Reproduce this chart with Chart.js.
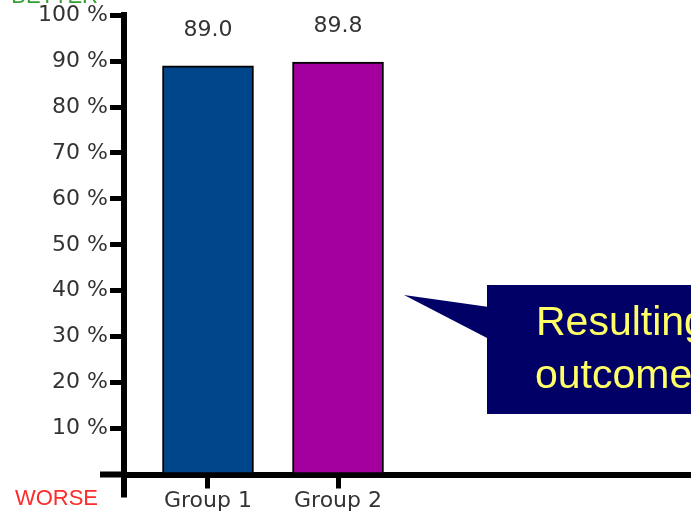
<!DOCTYPE html>
<html>
<head>
<meta charset="utf-8">
<script src="https://cdn.jsdelivr.net/npm/chart.js@4/dist/chart.umd.min.js"></script>
<style>
  html, body { margin: 0; padding: 0; background: #fff; overflow: hidden; }
  #wrap { position: relative; width: 691px; height: 540px; }
</style>
</head>
<body>
<div id="wrap"><canvas id="chart" width="691" height="540"></canvas></div>
<script>
// Datos del gráfico
const categories = ['Group 1', 'Group 2'];
const values = [89.0, 89.8];
const barColors = ['#00468b', '#a3009f'];
const yTicks = [0, 10, 20, 30, 40, 50, 60, 70, 80, 90, 100];

Chart.defaults.font.family = 'DejaVu Sans';

// Etiquetas de valor encima de las barras
const valueLabels = {
    id: 'valueLabels',
    afterDatasetsDraw(chart) {
        const ctx = chart.ctx;
        const meta = chart.getDatasetMeta(0);
        ctx.save();
        ctx.font = '22px "DejaVu Sans"';
        ctx.fillStyle = '#333';
        ctx.textAlign = 'center';
        ctx.textBaseline = 'alphabetic';
        meta.data.forEach((bar, i) => {
            ctx.fillText(values[i].toFixed(1), bar.x, bar.y - 30);
        });
        ctx.restore();
    }
};

// Prolongación de ejes, textos BETTER/WORSE y globo
const decorations = {
    id: 'decorations',
    afterDraw(chart) {
        const ctx = chart.ctx;
        const area = chart.chartArea;
        ctx.save();
        ctx.strokeStyle = '#000';
        ctx.lineWidth = 6;
        ctx.beginPath();
        ctx.moveTo(area.left, area.bottom);
        ctx.lineTo(area.left, area.bottom + 23);
        ctx.moveTo(area.left - 24, area.bottom);
        ctx.lineTo(area.left, area.bottom);
        ctx.stroke();

        ctx.font = '22px "Liberation Sans"';
        ctx.textAlign = 'right';
        ctx.fillStyle = '#33a033';
        ctx.fillText('BETTER', 98, 3);
        ctx.fillStyle = '#ff2a2a';
        ctx.fillText('WORSE', 98, 505);

        // globo
        ctx.fillStyle = '#000066';
        ctx.beginPath();
        ctx.moveTo(404, 295);
        ctx.lineTo(489, 307);
        ctx.lineTo(489, 339);
        ctx.closePath();
        ctx.fill();
        ctx.fillRect(487, 285, 210, 129);

        ctx.fillStyle = '#ffff66';
        ctx.textAlign = 'left';
        ctx.font = '41px "Liberation Sans"';
        ctx.fillText('Resulting', 536, 335);
        ctx.fillText('outcome', 535, 388);
        ctx.restore();
    }
};

const ctx = document.getElementById('chart').getContext('2d');
new Chart(ctx, {
    type: 'bar',
    data: {
        datasets: [{
            data: values.map((v, i) => ({ x: i + 1, y: v })),
            backgroundColor: barColors,
            borderColor: '#000',
            borderWidth: 2,
            borderSkipped: false,
            barThickness: 91
        }]
    },
    options: {
        responsive: false,
        devicePixelRatio: 1,
        animation: false,
        layout: { padding: { top: 14.5, right: 0, left: 0, bottom: 0 } },
        plugins: {
            legend: { display: false },
            tooltip: { enabled: false }
        },
        scales: {
            x: {
                type: 'linear',
                offset: false,
                min: 0.354,
                max: 4.715,
                afterBuildTicks(scale) {
                    scale.ticks = categories.map((c, i) => ({ value: i + 1 }));
                },
                afterFit(scale) { scale.height = 540 - 474.5; },
                ticks: {
                    callback: (v) => categories[Math.round(v) - 1] || '',
                    color: '#333',
                    font: { size: 22 },
                    padding: 0,
                    maxRotation: 0,
                    autoSkip: false
                },
                grid: {
                    drawOnChartArea: false,
                    drawTicks: true,
                    offset: false,
                    tickLength: 14,
                    tickWidth: 5,
                    tickColor: '#000'
                },
                border: { display: true, color: '#000', width: 6 }
            },
            y: {
                min: 0,
                max: 100,
                afterBuildTicks(scale) {
                    scale.ticks = yTicks.map(v => ({ value: v }));
                },
                afterFit(scale) { scale.width = 124; },
                ticks: {
                    callback: (v) => v === 0 ? '' : v + ' %',
                    color: '#333',
                    font: { size: 22 },
                    padding: 2
                },
                grid: {
                    drawOnChartArea: false,
                    drawTicks: true,
                    tickLength: 14,
                    tickWidth: 5,
                    tickColor: '#000'
                },
                border: { display: true, color: '#000', width: 6 }
            }
        }
    },
    plugins: [valueLabels, decorations]
});
</script>
</body>
</html>
